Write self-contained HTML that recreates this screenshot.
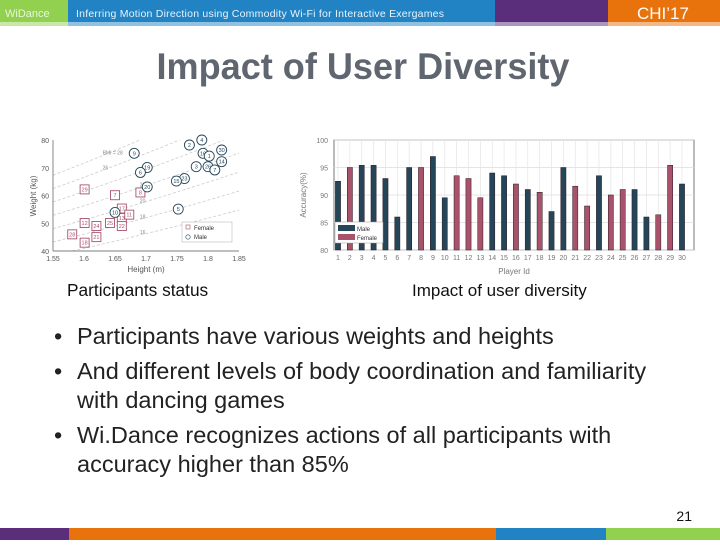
<!DOCTYPE html>
<html><head><meta charset="utf-8"><style>
body{margin:0;width:720px;height:540px;overflow:hidden;background:#fff;font-family:"Liberation Sans",sans-serif}
svg text{font-family:"Liberation Sans",sans-serif}
</style></head><body>
<svg width="720" height="540">
<g>
<rect x="0" y="0" width="68" height="22" fill="#92d050"/><rect x="0" y="22" width="68" height="4" fill="#c9e7a7"/>
<rect x="68" y="0" width="427" height="22" fill="#2183c4"/><rect x="68" y="22" width="427" height="4" fill="#90c1e1"/>
<rect x="495" y="0" width="113" height="22" fill="#5b2e7b"/><rect x="495" y="22" width="113" height="4" fill="#ad96bd"/>
<rect x="608" y="0" width="112" height="22" fill="#e8720c"/><rect x="608" y="22" width="112" height="4" fill="#f3b885"/>
<text x="5" y="17" font-size="11" fill="#e8f5d8">WiDance</text>
<text x="76" y="17" font-size="10.5" fill="#eaf3fb" textLength="368">Inferring Motion Direction using Commodity Wi-Fi for Interactive Exergames</text>
<text x="637" y="19" font-size="17" fill="#fff">CHI’17</text>
</g>
<g>
<rect x="0" y="528" width="69" height="12" fill="#5b2e7b"/><rect x="69" y="528" width="427" height="12" fill="#e8720c"/>
<rect x="496" y="528" width="110" height="12" fill="#2183c4"/><rect x="606" y="528" width="114" height="12" fill="#92d050"/>
</g>
<text x="363" y="79" font-size="37" font-weight="bold" fill="#5f6670" text-anchor="middle" textLength="413" lengthAdjust="spacingAndGlyphs">Impact of User Diversity</text>
<g id="scatter"></g>
<g id="bars"></g>
<text x="67" y="296" font-size="17.3" fill="#111">Participants status</text>
<text x="412" y="296" font-size="17" fill="#111">Impact of user diversity</text>
<g font-size="23.5" fill="#222">
<text x="54" y="344">•</text><text x="77" y="344">Participants have various weights and heights</text>
<text x="54" y="379">•</text><text x="77" y="379">And  different levels of body  coordination and familiarity</text>
<text x="77" y="408">with dancing games</text>
<text x="54" y="443">•</text><text x="77" y="443">Wi.Dance recognizes actions of all participants with</text>
<text x="77" y="472">accuracy higher than 85%</text>
</g>
<text x="692" y="521" font-size="14" fill="#111" text-anchor="end">21</text>
</svg>
<script>
const NS="http://www.w3.org/2000/svg";
function mk(p,t,a,txt){const e=document.createElementNS(NS,t);for(const k in a)e.setAttribute(k,a[k]);if(txt!=null)e.textContent=txt;p.appendChild(e);return e;}
// ---- bar chart data
const playerIds=[1,2,3,4,5,6,7,8,9,10,11,12,13,14,15,16,17,18,19,20,21,22,23,24,25,26,27,28,29,30];
const accuracy=[92.5,95,95.4,95.4,93,86,95,95,97,89.5,93.5,93,89.5,94,93.5,92,91,90.5,87,95,91.6,88,93.5,90,91,91,86,86.4,95.4,92];
const gender=["M","F","M","M","M","M","M","F","M","M","F","F","F","M","M","F","M","F","M","M","F","F","M","F","F","M","M","F","F","M"];
const accTicks=[80,85,90,95,100];
// ---- scatter data
const heights=[1.79,1.77,1.822,1.681,1.792,1.802,1.822,1.702,1.781,1.80,1.691,1.811,1.762,1.749,1.702,1.650,1.752];
const weights=[80,78.2,76.4,75.2,75.2,74.2,72.2,70.1,70.4,70.4,68.3,69.2,66.1,65.2,63.1,53.9,55.1];
const maleIds=["4","2","30","9","16","1","14","19","3","26","6","7","23","15","20","10","5"];
const fHeights=[1.601,1.650,1.691,1.661,1.661,1.673,1.601,1.620,1.642,1.661,1.581,1.620,1.601];
const fWeights=[62.2,60.1,61.1,55.3,51.9,53.1,50.1,49,50.1,49,46,45,43];
const femaleIds=["29","7","8","17","13","11","12","24","25","22","28","21","18"];
const bmiLevels=[16,18,20,22,24,26,28];
const hTicks=[1.55,1.6,1.65,1.7,1.75,1.8,1.85];
const wTicks=[40,50,60,70,80];

// bar chart
(function(){
const g=document.getElementById('bars');
const L=334,R=694,T=140,B=250;
const x=i=>338+(i)*(682-338)/29;
const y=v=>B-(v-80)/(100-80)*(B-T);
mk(g,'rect',{x:L,y:T,width:R-L,height:B-T,fill:'#fff',stroke:'#555','stroke-width':0.8});
accTicks.forEach(t=>{
 const gl=mk(g,'line',{x1:L,x2:R,y1:y(t),y2:y(t),stroke:'#ddd','stroke-width':0.8});
 
 const tl=mk(g,'text',{x:L-6,y:y(t)+3,'font-size':7,fill:'#777','text-anchor':'end'},t);
 
});
playerIds.forEach((id,i)=>{
 mk(g,'line',{x1:x(i),x2:x(i),y1:T,y2:B,stroke:'#e4e4e4','stroke-width':0.7});
 const b=mk(g,'rect',{x:x(i)-2.6,y:y(accuracy[i]),width:5.2,height:B-y(accuracy[i]),fill:gender[i]==='M'?'#254659':'#a8526c',stroke:'#2a1a22','stroke-width':0.5});
 
 const tl=mk(g,'text',{x:x(i),y:B+10,'font-size':7,fill:'#777','text-anchor':'middle'},id);
 
});
const yl=mk(g,'text',{transform:`translate(306,195) rotate(-90)`,'font-size':8,fill:'#777','text-anchor':'middle'},'Accuracy(%)');

const xl=mk(g,'text',{x:(L+R)/2,y:274,'font-size':8,fill:'#777','text-anchor':'middle'},'Player Id');

const lg=mk(g,'g',{});
mk(lg,'rect',{x:335,y:222,width:48,height:21,fill:'#fff',stroke:'#999','stroke-width':0.5});
mk(lg,'rect',{x:338,y:225,width:17,height:6,fill:'#254659'});
mk(lg,'text',{x:357,y:231,'font-size':6,fill:'#333'},'Male');
mk(lg,'rect',{x:338,y:234,width:17,height:6,fill:'#a8526c'});
mk(lg,'text',{x:357,y:240,'font-size':6,fill:'#333'},'Female');
})();

// scatter
(function(){
const g=document.getElementById('scatter');
const L=53,R=239,T=140,B=251;
const x=h=>L+(h-1.55)/(1.85-1.55)*(R-L);
const y=w=>B-(w-40)/(80-40)*(B-T);
mk(g,'rect',{x:L,y:T,width:R-L,height:B-T,fill:'#fff'});
mk(g,'clipPath',{id:'sc'}).appendChild(document.createElementNS(NS,'rect'));
const cr=g.querySelector('#sc rect');cr.setAttribute('x',L);cr.setAttribute('y',T);cr.setAttribute('width',R-L);cr.setAttribute('height',B-T);
const lines=mk(g,'g',{'clip-path':'url(#sc)'});
bmiLevels.forEach(b=>{
 const pts=[];for(let h=1.55;h<=1.851;h+=0.01)pts.push(x(h)+','+y(b*h*h));
 const pl=mk(lines,'polyline',{points:pts.join(' '),fill:'none',stroke:'#ccc','stroke-width':0.8,'stroke-dasharray':'3,2'});
 
 const hl=b>=26?1.63:1.69;
 mk(lines,'text',{x:x(hl),y:y(b*hl*hl)-1,'font-size':5,fill:'#888'},b===28?'BMI = 28':b);
});
mk(g,'line',{x1:L,x2:L,y1:T,y2:B,stroke:'#555','stroke-width':0.7});
mk(g,'line',{x1:L,x2:R,y1:B,y2:B,stroke:'#555','stroke-width':0.7});
wTicks.forEach(t=>{const tl=mk(g,'text',{x:L-4,y:y(t)+3,'font-size':7,fill:'#555','text-anchor':'end'},t);
 });
hTicks.forEach(t=>{const tl=mk(g,'text',{x:x(t),y:B+10,'font-size':7,fill:'#555','text-anchor':'middle'},t);
 });
fHeights.forEach((h,i)=>{
 const s=mk(g,'rect',{x:x(h)-4.5,y:y(fWeights[i])-4.5,width:9,height:9,fill:'#fff',stroke:'#a8526c','stroke-width':0.9});
 
 mk(g,'text',{x:x(h),y:y(fWeights[i])+2,'font-size':5.5,fill:'#a8526c','text-anchor':'middle'},femaleIds[i]);
});
heights.forEach((h,i)=>{
 const c=mk(g,'circle',{cx:x(h),cy:y(weights[i]),r:5,fill:'#fff',stroke:'#254659','stroke-width':0.9});
 
 mk(g,'text',{x:x(h),y:y(weights[i])+2,'font-size':5.5,fill:'#254659','text-anchor':'middle'},maleIds[i]);
});
const yl=mk(g,'text',{transform:'translate(36,196) rotate(-90)','font-size':8,fill:'#555','text-anchor':'middle'},'Weight (kg)');

const xl=mk(g,'text',{x:146,y:272,'font-size':8,fill:'#555','text-anchor':'middle'},'Height (m)');

const lg=mk(g,'g',{});
mk(lg,'rect',{x:182,y:222,width:50,height:20,fill:'#fff',stroke:'#aaa','stroke-width':0.5});
mk(lg,'rect',{x:186,y:225,width:4,height:4,fill:'none',stroke:'#a8526c','stroke-width':0.6});
mk(lg,'text',{x:194,y:230,'font-size':6,fill:'#333'},'Female');
mk(lg,'circle',{cx:188,cy:237,r:2.2,fill:'none',stroke:'#254659','stroke-width':0.6});
mk(lg,'text',{x:194,y:239,'font-size':6,fill:'#333'},'Male');
})();
</script>
</body></html>
